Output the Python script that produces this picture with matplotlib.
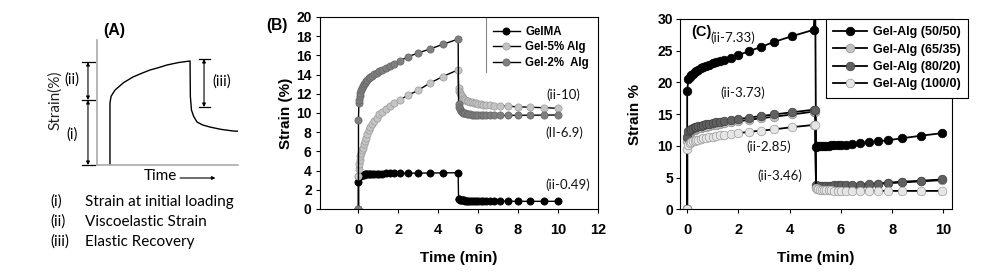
import numpy as np
import matplotlib
matplotlib.use("Agg")
import matplotlib.pyplot as plt

# ---- panel A: schematic creep curve (arbitrary units) ----
schem_t = [0.92, 0.92, 1.0, 1.28, 1.9, 2.55, 3.2, 3.76, 4.4, 4.96, 5.8, 6.6,
           6.62, 6.7, 6.85, 7.09, 7.5, 8.0, 8.8, 9.65, 10.0]
schem_s = [0, 4.96, 5.5, 6.0, 6.6, 7.04, 7.35, 7.6, 7.8, 8.0, 8.2, 8.32,
           5.5, 4.4, 3.9, 3.44, 3.2, 3.04, 2.85, 2.72, 2.7]
legend_a = [("(i)", "Strain at initial loading"),
            ("(ii)", "Viscoelastic Strain"),
            ("(iii)", "Elastic Recovery")]

# ---- panel B ----
tB_load = [0, 0, 0.02, 0.04, 0.07, 0.1, 0.13, 0.17, 0.21, 0.26, 0.31, 0.37, 0.44,
           0.52, 0.6, 0.7, 0.8, 0.92, 1.05, 1.2, 1.37, 1.57, 1.8, 2.1, 2.48,
           2.98, 3.57, 4.23, 5.0]
tB_rec = [5.02, 5.05, 5.09, 5.13, 5.18, 5.23, 5.29, 5.35, 5.42, 5.5, 5.58, 5.67,
          5.77, 5.88, 6.0, 6.13, 6.27, 6.42, 6.6, 6.8, 7.1, 7.48, 7.98, 8.62,
          9.32, 10.0]
gelma_load = [0, 2.85, 3.3, 3.4, 3.45, 3.5, 3.52, 3.54, 3.56, 3.58, 3.6, 3.61,
              3.62, 3.63, 3.64, 3.65, 3.66, 3.67, 3.68, 3.69, 3.7, 3.7, 3.71,
              3.72, 3.73, 3.74, 3.75, 3.76, 3.78]
gelma_rec = [1.05, 1.0, 0.97, 0.94, 0.92, 0.9, 0.89, 0.88, 0.87, 0.86, 0.85,
             0.85, 0.84, 0.84, 0.83, 0.83, 0.82, 0.82, 0.82, 0.81, 0.81, 0.81,
             0.8, 0.8, 0.8, 0.8]
alg5_load = [0, 3.4, 4.2, 4.7, 5.1, 5.5, 5.8, 6.1, 6.4, 6.8, 7.1, 7.4, 7.8, 8.2,
             8.5, 8.9, 9.2, 9.5, 9.85, 10.15, 10.45, 10.75, 11.05, 11.4, 11.85,
             12.35, 13.1, 13.8, 14.5]
alg5_rec = [12.6, 12.3, 12.1, 11.9, 11.75, 11.6, 11.5, 11.4, 11.3, 11.2, 11.15,
            11.1, 11.05, 11.0, 10.95, 10.9, 10.88, 10.85, 10.8, 10.78, 10.75,
            10.7, 10.65, 10.6, 10.55, 10.5]
alg2_load = [0, 9.3, 11.0, 11.4, 11.8, 12.1, 12.35, 12.6, 12.8, 13.0, 13.15,
             13.3, 13.45, 13.6, 13.75, 13.9, 14.05, 14.2, 14.35, 14.5, 14.7,
             14.9, 15.15, 15.45, 15.85, 16.25, 16.65, 17.15, 17.7]
alg2_rec = [10.9, 10.6, 10.4, 10.25, 10.15, 10.05, 10.0, 9.95, 9.9, 9.87, 9.85,
            9.82, 9.8, 9.8, 9.78, 9.77, 9.76, 9.75, 9.75, 9.75, 9.75, 9.75,
            9.76, 9.77, 9.78, 9.8]
labels_B = ["GelMA", "Gel-5% Alg", "Gel-2%  Alg"]
notes_B = [("(ii-10)", 10.3, 11.9), ("(II-6.9)", 10.35, 7.9), ("(ii-0.49)", 10.5, 2.5)]

# ---- panel C ----
tC_load = [0, 0, 0.05, 0.1, 0.16, 0.22, 0.29, 0.36, 0.44, 0.53, 0.63, 0.74,
           0.86, 0.99, 1.13, 1.28, 1.45, 1.7, 1.98, 2.4, 2.88, 3.4, 4.1, 4.94, 5.0]
tC_rec = [5.03, 5.07, 5.12, 5.18, 5.25, 5.33, 5.42, 5.52, 5.63, 5.75, 5.88,
          6.02, 6.2, 6.43, 6.76, 7.08, 7.44, 7.86, 8.4, 9.12, 9.95]
c5050_load = [0, 18.7, 20.5, 20.9, 21.2, 21.4, 21.6, 21.8, 22.0, 22.2, 22.4,
              22.6, 22.8, 23.0, 23.2, 23.4, 23.6, 23.9, 24.3, 24.9, 25.6, 26.4,
              27.3, 28.3, 33.0]
c5050_rec = [9.9, 9.95, 9.95, 10.0, 10.0, 10.0, 10.02, 10.05, 10.07, 10.1, 10.12,
             10.15, 10.2, 10.3, 10.4, 10.55, 10.7, 10.9, 11.2, 11.6, 12.0]
c6535_load = [0, 10.8, 11.8, 12.1, 12.3, 12.45, 12.55, 12.65, 12.75, 12.85,
              12.95, 13.05, 13.15, 13.25, 13.35, 13.45, 13.55, 13.7, 13.85,
              14.1, 14.35, 14.6, 14.95, 15.4, 15.4]
c6535_rec = [3.5, 3.45, 3.4, 3.4, 3.4, 3.42, 3.45, 3.48, 3.5, 3.55, 3.6, 3.65,
             3.7, 3.75, 3.8, 3.9, 4.0, 4.1, 4.25, 4.4, 4.6]
c8020_load = [0, 11.45, 12.3, 12.5, 12.65, 12.8, 12.9, 13.0, 13.1, 13.2, 13.3,
              13.4, 13.5, 13.6, 13.7, 13.8, 13.9, 14.05, 14.2, 14.45, 14.7,
              14.95, 15.3, 15.7, 15.7]
c8020_rec = [3.8, 3.75, 3.72, 3.7, 3.7, 3.7, 3.7, 3.72, 3.74, 3.76, 3.78, 3.8,
             3.82, 3.85, 3.9, 3.97, 4.05, 4.2, 4.35, 4.5, 4.7]
c1000_load = [0, 9.5, 10.2, 10.4, 10.55, 10.7, 10.8, 10.9, 11.0, 11.1, 11.2,
              11.3, 11.4, 11.45, 11.55, 11.65, 11.75, 11.85, 12.0, 12.2, 12.4,
              12.6, 12.95, 13.3, 13.3]
c1000_rec = [3.3, 3.2, 3.15, 3.1, 3.05, 3.02, 3.0, 3.0, 2.98, 2.96, 2.95, 2.94,
             2.93, 2.92, 2.92, 2.91, 2.9, 2.9, 2.9, 2.9, 2.9]
labels_C = ["Gel-Alg (50/50)", "Gel-Alg (65/35)", "Gel-Alg (80/20)", "Gel-Alg (100/0)"]
notes_C = [("(ii-7.33)", 1.78, 27.0), ("(ii-3.73)", 2.17, 18.45),
           ("(ii-2.85)", 3.2, 9.8), ("(ii-3.46)", 3.6, 5.3)]

BOLD = dict(family="Liberation Sans", weight="bold")
SKETCH = "Lato"

fig = plt.figure(figsize=(9.81, 2.8), dpi=100)

# ================= panel A =================
axA = fig.add_axes([97 / 981, 115 / 280, 141 / 981, 125 / 280])
axA.plot(schem_t, schem_s, color="black", lw=1.0)
axA.set_xlim(0, 10)
axA.set_ylim(0, 10)
axA.set_xticks([])
axA.set_yticks([])
for side in ["top", "right"]:
    axA.spines[side].set_visible(False)
for side in ["left", "bottom"]:
    axA.spines[side].set_color("#aaaaaa")
    axA.spines[side].set_linewidth(1.2)

arrow = dict(arrowstyle="<|-|>", color="black", lw=0.8, mutation_scale=5,
             shrinkA=0, shrinkB=0)
for (x, y0, y1) in [(-0.64, 0.0, 5.2), (-0.64, 5.2, 8.24), (7.59, 4.64, 8.48)]:
    axA.annotate("", xy=(x, y1), xytext=(x, y0), arrowprops=arrow,
                 annotation_clip=False)
for (x0, x1, y) in [(-1.06, -0.14, 0.0), (-1.06, -0.14, 5.2), (-1.06, -0.14, 8.24),
                    (7.23, 8.0, 8.48), (7.23, 8.0, 4.64)]:
    axA.plot([x0, x1], [y, y], color="black", lw=0.9, clip_on=False)
axA.text(-1.77, 6.8, "(ii)", family=SKETCH, fontsize=10.5, ha="center", va="center")
axA.text(-1.77, 2.4, "(i)", family=SKETCH, fontsize=10.5, ha="center", va="center")
axA.text(8.87, 6.64, "(iii)", family=SKETCH, fontsize=10.5, ha="center", va="center")
axA.text(-2.98, 5.2, "Strain(%)", family=SKETCH, fontsize=11, rotation=90,
         ha="center", va="center", color="#222222")
axA.text(4.47, -0.9, "Time", family=SKETCH, fontsize=11, ha="center", va="center")
axA.annotate("", xy=(8.4, -1.04), xytext=(5.89, -1.04),
             arrowprops=dict(arrowstyle="-|>", color="black", lw=0.8,
                             mutation_scale=5, shrinkA=0, shrinkB=0),
             annotation_clip=False)
axA.text(1.2, 10.72, "(A)", fontsize=11.5, ha="center", va="center", **BOLD)

for i, (num, txt) in enumerate(legend_a):
    yy = 1 - (202 + 20 * i) / 280
    fig.text(50 / 981, yy, num, family=SKETCH, fontsize=11, va="center")
    fig.text(85 / 981, yy, txt, family=SKETCH, fontsize=11, va="center")

# ================= panel B =================
axB = fig.add_axes([320 / 981, 71 / 280, 277.7 / 981, 192 / 280])
seriesB = [(gelma_load, gelma_rec, "black", "black"),
           (alg5_load, alg5_rec, "#c4c4c4", "#9a9a9a"),
           (alg2_load, alg2_rec, "#7f7f7f", "#666666")]
for (yl, yr, fc, ec), lab in zip(seriesB, labels_B):
    axB.plot(np.concatenate([tB_load, tB_rec]), np.concatenate([yl, yr]),
             color="black", lw=1.0, marker="o", ms=5.2, mfc=fc, mec=ec, mew=0.5,
             label=lab)
axB.set_xlim(-1.93, 12)
axB.set_ylim(0, 20)
axB.set_xticks(range(0, 13, 2))
axB.set_yticks(range(0, 21, 2))
axB.tick_params(axis="x", direction="out", length=3, pad=7)
axB.tick_params(axis="y", direction="out", length=3, pad=3)
for lbl in axB.get_xticklabels():
    lbl.set_fontproperties(BOLD)
    lbl.set_fontsize(10.5)
for lbl in axB.get_yticklabels():
    lbl.set_fontproperties(BOLD)
    lbl.set_fontsize(10)
axB.set_xlabel("Time (min)", fontsize=11, labelpad=10, **BOLD)
axB.set_ylabel("Strain (%)", fontsize=11, labelpad=2, **BOLD)
legB = axB.legend(loc="upper right", bbox_to_anchor=(1.0, 1.0), frameon=False,
                  prop=dict(family="Liberation Sans", weight="bold", size=8.3),
                  handlelength=2.3, labelspacing=0.3, borderaxespad=0.35,
                  handletextpad=0.5)
axB.plot([0.597, 0.597], [0.714, 1.0], transform=axB.transAxes,
         color="#888888", lw=0.8)
for txt, x, y in notes_B:
    axB.text(x, y, txt, fontsize=9.5, ha="center", va="center",
             family=SKETCH, color="#111111")
axB.text(-0.155, 0.955, "(B)", transform=axB.transAxes, fontsize=11.2,
         ha="center", va="center", **BOLD)

# ================= panel C =================
axC = fig.add_axes([680 / 981, 70.7 / 280, 272 / 981, 190.3 / 280])
seriesC = [(c5050_load, c5050_rec, "black", "black"),
           (c6535_load, c6535_rec, "#c2c2c2", "#8c8c8c"),
           (c8020_load, c8020_rec, "#606060", "#404040"),
           (c1000_load, c1000_rec, "#e6e6e6", "#9a9a9a")]
for (yl, yr, fc, ec), lab in zip(seriesC, labels_C):
    axC.plot(np.concatenate([tC_load, tC_rec]), np.concatenate([yl, yr]),
             color="black", lw=1.3, marker="o", ms=6.2, mfc=fc, mec=ec, mew=0.5,
             label=lab)
axC.set_xlim(-0.28, 10.34)
axC.set_ylim(0, 30)
axC.set_xticks(range(0, 11, 2))
axC.set_yticks(range(0, 31, 5))
axC.tick_params(axis="x", direction="out", length=3, pad=7)
axC.tick_params(axis="y", direction="out", length=3, pad=2)
for lbl in axC.get_xticklabels():
    lbl.set_fontproperties(BOLD)
    lbl.set_fontsize(10.5)
for lbl in axC.get_yticklabels():
    lbl.set_fontproperties(BOLD)
    lbl.set_fontsize(10)
axC.set_xlabel("Time (min)", fontsize=11, labelpad=10, **BOLD)
axC.set_ylabel("Strain %", fontsize=11, labelpad=11, **BOLD)
legC = axC.legend(loc="upper right", bbox_to_anchor=(1.06, 1.0),
                  prop=dict(family="Liberation Sans", weight="bold", size=9),
                  handlelength=2.7, labelspacing=0.42, borderaxespad=0.0,
                  handletextpad=0.5, fancybox=False, framealpha=1,
                  edgecolor="black", borderpad=0.6)
legC.get_frame().set_linewidth(0.8)
for txt, x, y in notes_C:
    axC.text(x, y, txt, fontsize=9.5, ha="center", va="center",
             family=SKETCH, color="#111111")
axC.text(0.077, 0.93, "(C)", transform=axC.transAxes, fontsize=10.5,
         ha="center", va="center", **BOLD)

fig.savefig("out.png", dpi=100)
